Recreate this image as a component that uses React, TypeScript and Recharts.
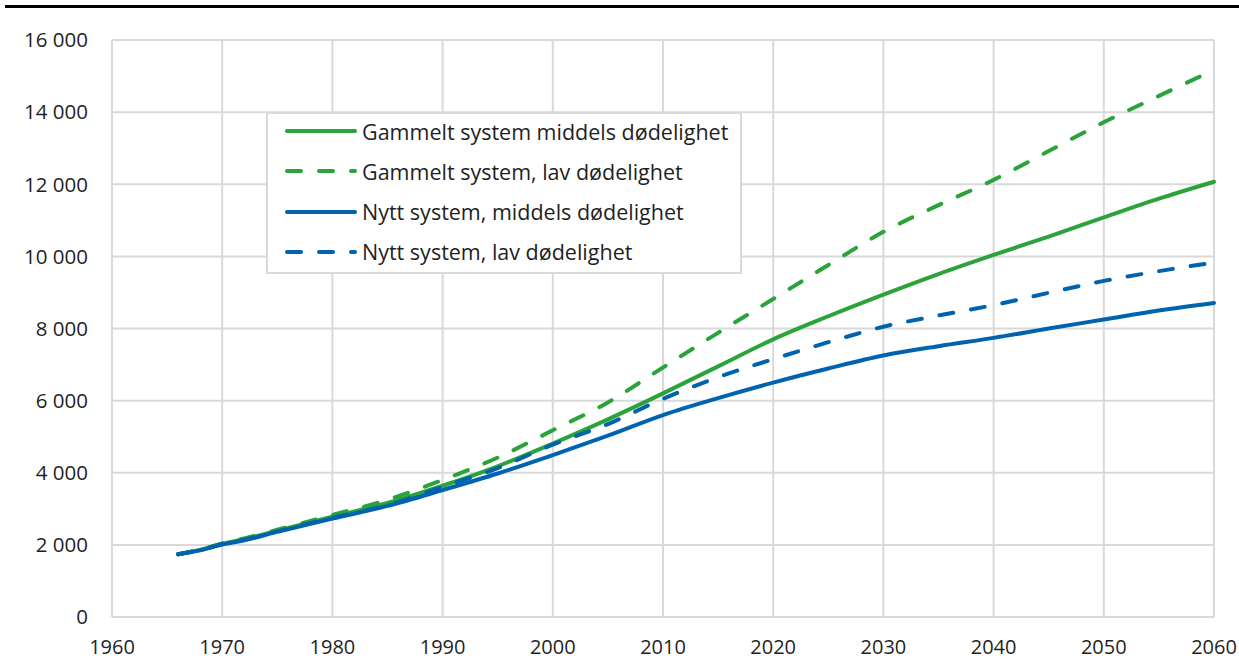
import React from "react";
import { LineChart, Line, XAxis, YAxis, CartesianGrid } from "recharts";

const years = [1966, 1968, 1970, 1972, 1975, 1980, 1985, 1990, 1995, 2000, 2005, 2010, 2015, 2020, 2025, 2030, 2035, 2040, 2045, 2050, 2055, 2060];
const gammeltMiddels = [1740, 1860, 2030, 2160, 2390, 2780, 3160, 3640, 4180, 4810, 5480, 6200, 6950, 7700, 8340, 8940, 9510, 10040, 10550, 11080, 11600, 12070];
const gammeltLav = [1740, 1870, 2040, 2180, 2420, 2830, 3250, 3800, 4420, 5180, 5950, 6920, 7880, 8820, 9760, 10680, 11420, 12120, 12920, 13720, 14450, 15170];
const nyttMiddels = [1740, 1850, 2010, 2130, 2360, 2730, 3080, 3520, 3980, 4490, 5030, 5600, 6070, 6500, 6890, 7250, 7510, 7740, 8000, 8250, 8500, 8710];
const nyttLav = [1740, 1855, 2020, 2140, 2375, 2750, 3100, 3610, 4130, 4780, 5350, 6050, 6650, 7150, 7620, 8050, 8360, 8650, 8990, 9320, 9590, 9830];

const xTicks = [1960, 1970, 1980, 1990, 2000, 2010, 2020, 2030, 2040, 2050, 2060];
const yTicks = [0, 2000, 4000, 6000, 8000, 10000, 12000, 14000, 16000];

const seriesNames = [
  "Gammelt system middels dødelighet",
  "Gammelt system, lav dødelighet",
  "Nytt system, middels dødelighet",
  "Nytt system, lav dødelighet",
];

const GREEN = "#29a33a";
const BLUE = "#0063b0";
const DASH = "14 18";
const FONT = "'Open Sans', 'Noto Sans', sans-serif";

const data = years.map((y, i) => ({
  year: y,
  gm: gammeltMiddels[i],
  gl: gammeltLav[i],
  nm: nyttMiddels[i],
  nl: nyttLav[i],
}));

const fmt = (v: number) => String(v).replace(/\B(?=(\d{3})+(?!\d))/g, " ");

const legendItems = [
  { name: seriesNames[0], color: GREEN, dash: undefined },
  { name: seriesNames[1], color: GREEN, dash: DASH },
  { name: seriesNames[2], color: BLUE, dash: undefined },
  { name: seriesNames[3], color: BLUE, dash: DASH },
];

export default function App() {
  return (
    <div style={{ position: "absolute", left: 0, top: 0, width: 1239, height: 659, background: "#fff", fontFamily: FONT }}>
      <div style={{ position: "absolute", left: 5, top: 5, width: 1234, height: 3, background: "#000" }} />
      <LineChart width={1239} height={659} data={data} margin={{ top: 40, right: 25, bottom: 0, left: 0 }}>
        <CartesianGrid stroke="#d9d9d9" strokeWidth={2} />
        <XAxis
          dataKey="year"
          type="number"
          domain={[1960, 2060]}
          ticks={xTicks}
          height={42}
          tickLine={false}
          tickSize={0}
          tickMargin={23}
          axisLine={{ stroke: "#d9d9d9", strokeWidth: 2 }}
          tick={{ fill: "#1f1f1f", fontSize: 20, fontFamily: FONT }}
          interval={0}
        />
        <YAxis
          type="number"
          domain={[0, 16000]}
          ticks={yTicks}
          width={112}
          tickLine={false}
          tickSize={0}
          tickMargin={24}
          axisLine={{ stroke: "#d9d9d9", strokeWidth: 2 }}
          tick={{ fill: "#1f1f1f", fontSize: 20.5, fontFamily: FONT }}
          tickFormatter={fmt}
          interval={0}
        />
        <Line dataKey="gm" type="monotone" stroke={GREEN} strokeWidth={4} dot={false} isAnimationActive={false} strokeLinecap="round" />
        <Line dataKey="gl" type="monotone" stroke={GREEN} strokeWidth={4} dot={false} isAnimationActive={false} strokeDasharray={DASH} strokeLinecap="round" />
        <Line dataKey="nm" type="monotone" stroke={BLUE} strokeWidth={4} dot={false} isAnimationActive={false} strokeLinecap="round" />
        <Line dataKey="nl" type="monotone" stroke={BLUE} strokeWidth={4} dot={false} isAnimationActive={false} strokeDasharray={DASH} strokeLinecap="round" />
      </LineChart>
      <div
        style={{
          position: "absolute",
          left: 266,
          top: 112,
          width: 472,
          height: 158,
          border: "2px solid #d9d9d9",
          background: "#fff",
        }}
      >
        {legendItems.map((it, i) => (
          <div key={i} style={{ position: "absolute", left: 0, top: -3 + i * 40.3, height: 40, display: "flex", alignItems: "center" }}>
            <svg width={94} height={40} style={{ display: "block" }}>
              <line x1={19} x2={87} y1={20} y2={20} stroke={it.color} strokeWidth={4} strokeLinecap="round" strokeDasharray={it.dash} />
            </svg>
            <span style={{ fontSize: 21.5, color: "#1f1f1f", whiteSpace: "nowrap", fontFamily: FONT }}>{it.name}</span>
          </div>
        ))}
      </div>
    </div>
  );
}
